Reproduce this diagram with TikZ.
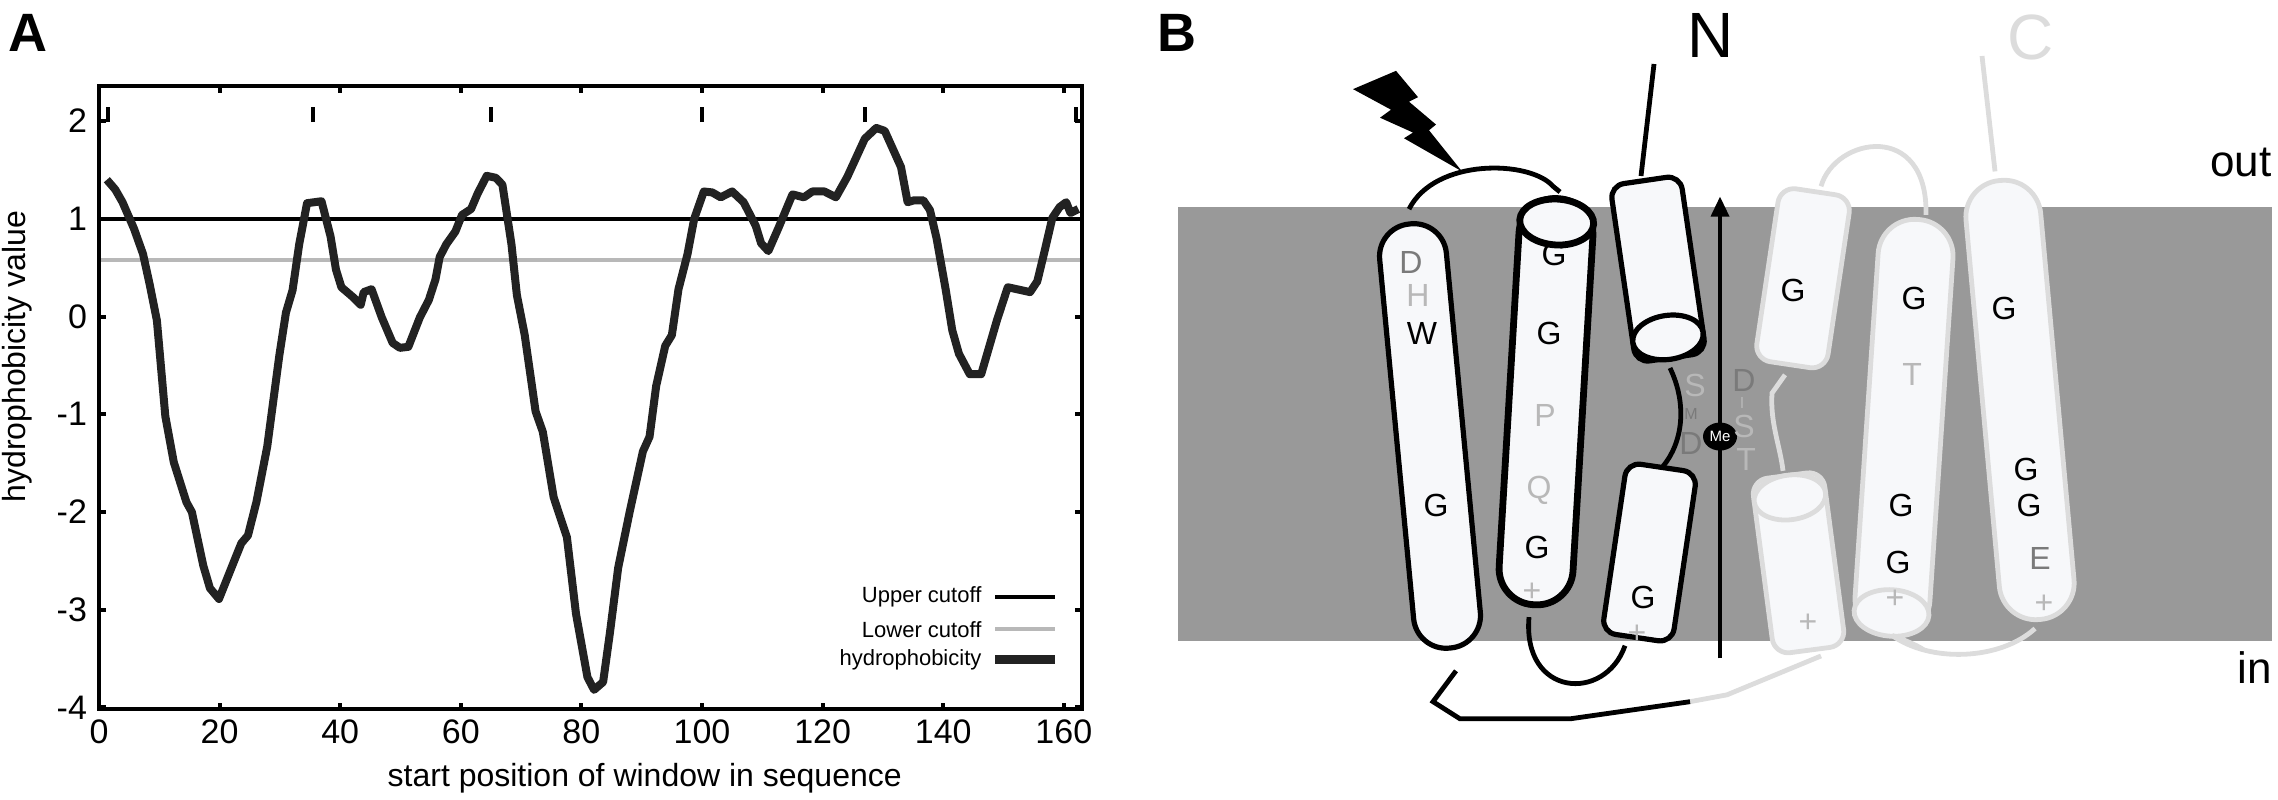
\documentclass[tikz,border=0pt]{standalone}
\usepackage{fontspec}
\setmainfont{Liberation Sans}
\usetikzlibrary{arrows.meta,shapes.geometric}
\definecolor{band}{HTML}{999999}
\definecolor{lt}{HTML}{DCDCDC}
\definecolor{hfill}{HTML}{F7F8FA}
\definecolor{lg}{HTML}{B8B8B8}
\definecolor{dg}{HTML}{7A7A7A}
\definecolor{crv}{HTML}{222222}
\tikzset{
  bh/.style={draw=black,line width=2.6pt,fill=hfill},
  gh/.style={draw=lt,line width=2.4pt,fill=hfill},
  bl/.style={draw=black,line width=2.4pt},
  gl/.style={draw=lt,line width=2.4pt},
  res/.style={font=\fontsize{16}{18}\selectfont,inner sep=0pt},
  tlab/.style={font=\fontsize{17}{19}\selectfont,inner sep=1pt},
  alab/.style={font=\fontsize{16}{19}\selectfont,inner sep=1pt},
  leg/.style={font=\fontsize{11}{12}\selectfont,anchor=east,inner sep=0pt},
}
\newcommand\capsule[6]{% cx cy angle halflen halfwid style
  \begin{scope}[shift={(#1,#2)},rotate=#3]
    \draw[#6,rounded corners=#5-0.5pt] (-#5,-#4) rectangle (#5,#4);
  \end{scope}}
\newcommand\boxhx[7]{% cx cy angle halflen halfwid style radius
  \begin{scope}[shift={(#1,#2)},rotate=#3]
    \draw[#6,rounded corners=#7] (-#5,-#4) rectangle (#5,#4);
  \end{scope}}
\newcommand\capend[6]{% cx cy angle yoff rx style
  \begin{scope}[shift={(#1,#2)},rotate=#3]
    \draw[#6] (0,#4) ellipse [x radius=#5, y radius=0.62*#5];
  \end{scope}}
\begin{document}
\begin{tikzpicture}[x=0.5pt,y=-0.5714pt]
\useasboundingbox (0,0) rectangle (2278,700);
% ---------------- Panel A
\node[font=\bfseries\fontsize{27}{29}\selectfont,anchor=north west,inner sep=0pt] (labA) at (8,12) {A};
\begin{scope}[shift={(99,277)},x=3.015pt,y=48.86pt]
  \draw[black,line width=1.8pt] (0,1) -- (163,1);
  \draw[lg,line width=1.8pt] (0,0.58) -- (163,0.58);
  \foreach \u in {1.5,35.5,65,100,127,162}
    \draw[black,line width=2.2pt] (\u,1.99) -- (\u,2.14);
  \draw[crv,line width=4pt,line join=round] plot coordinates {
   (1.3,1.40)(2.7,1.30)(3.9,1.17)(5.8,0.90)(7.3,0.64)(8.4,0.33)(9.6,-0.04)(11,-1.02)(12.4,-1.49)(14.5,-1.90)(15.4,-2.0)(17.3,-2.55)(18.4,-2.78)(19.9,-2.89)(22.1,-2.55)(23.6,-2.32)(24.7,-2.24)(26.1,-1.90)(27.9,-1.33)(29.9,-0.40)(31,0.04)(32.1,0.27)(33.2,0.74)(34.5,1.16)(36.9,1.18)(38.4,0.82)(39.3,0.48)(40.2,0.30)(42.1,0.20)(43.4,0.12)(43.9,0.25)(45.2,0.28)(46.9,-0.01)(48.7,-0.27)(49.9,-0.32)(51.3,-0.31)(53.2,-0.01)(54.7,0.17)(55.8,0.38)(56.5,0.61)(57.6,0.74)(59.1,0.87)(60.2,1.04)(61.7,1.10)(62.8,1.26)(64.3,1.44)(65.8,1.42)(66.9,1.35)(68.4,0.74)(69.3,0.22)(70.6,-0.19)(72.4,-0.97)(73.6,-1.18)(75.4,-1.85)(77.6,-2.26)(79.1,-3.04)(81.0,-3.69)(82.1,-3.82)(83.6,-3.74)(84.7,-3.25)(86.1,-2.57)(88.0,-2.0)(90.2,-1.38)(91.3,-1.23)(92.4,-0.71)(93.9,-0.30)(95.0,-0.19)(96.1,0.28)(97.6,0.64)(98.7,1.0)(100.3,1.28)(101.7,1.27)(103.1,1.22)(105,1.28)(106.9,1.17)(108.9,0.93)(109.8,0.75)(111,0.67)(112.7,0.91)(115,1.25)(116.9,1.22)(118.3,1.28)(120.3,1.28)(122.2,1.22)(124.1,1.43)(127,1.82)(128.9,1.93)(130.3,1.90)(132.2,1.64)(133,1.53)(134.1,1.17)(135.2,1.19)(136.7,1.19)(137.8,1.09)(138.9,0.80)(140.4,0.28)(141.5,-0.14)(142.6,-0.38)(144.4,-0.59)(146.3,-0.59)(148.9,-0.04)(150.7,0.30)(152.2,0.28)(154.4,0.25)(155.6,0.36)(156.7,0.64)(158.1,1.01)(159.3,1.12)(160.4,1.17)(161.1,1.06)(162.4,1.10)};
  \draw[black,line width=2pt] (0,-4.02) rectangle (163,2.36);
  \foreach \u in {0,20,...,160} {
    \draw[black,line width=2pt] (\u,-4.02) -- (\u,-3.95);
    \draw[black,line width=2pt] (\u,2.36) -- (\u,2.29);
    \node[tlab,anchor=north] (xt\u) at (\u,-4.1) {\u};}
  \foreach \v in {-4,...,2} {
    \draw[black,line width=2pt] (0,\v) -- (1.2,\v);
    \draw[black,line width=2pt] (163,\v) -- (161.8,\v);
    \node[tlab,anchor=east] (yt\v) at (-1.6,\v) {\v};}
  \node[alab,rotate=90] (ylab) at (-13.6,-0.41) {hydrophobicity value};
  \node[alab] (xlab) at (90.5,-4.72) {start position of window in sequence};
  \node[leg] (l1) at (146.4,-2.87) {Upper cutoff};
  \node[leg] (l2) at (146.4,-3.2) {Lower cutoff};
  \node[leg] (l3) at (146.4,-3.51) {hydrophobicity};
  \draw[black,line width=1.8pt] (148.6,-2.87) -- (158.6,-2.87);
  \draw[lg,line width=1.8pt] (148.6,-3.2) -- (158.6,-3.2);
  \draw[crv,line width=4.5pt] (148.6,-3.51) -- (158.6,-3.51);
\end{scope}
% ---------------- Panel B
\node[font=\bfseries\fontsize{27}{29}\selectfont,anchor=north west,inner sep=0pt] (labB) at (1157,12) {B};
\fill[band] (1178,181) rectangle (2272,561);
\node[font=\fontsize{22}{24}\selectfont,anchor=east,inner sep=0pt] (out) at (2272,142) {out};
\node[font=\fontsize{22}{24}\selectfont,anchor=east,inner sep=0pt] (in) at (2272,584) {in};
\node[font=\fontsize{32}{34}\selectfont,inner sep=0pt] (N) at (1711,31) {N};
\node[font=\fontsize{32}{34}\selectfont,inner sep=0pt,text=lt] (C) at (2031,33) {C};
% light loops
\draw[gl] (1690,614) -- (1727,608) -- (1821,574);
\draw[gl] (1821,163) .. controls (1835,120) and (1928,105) .. (1926,188);
\draw[gl] (1785,328) -- (1772,344) .. controls (1770,370) and (1780,390) .. (1783,412);
\draw[gl] (1892,556) .. controls (1930,580) and (2000,578) .. (2035,550);
\draw[gl] (1982,49) -- (1995,150);
% light helices
\boxhx{1803}{243.5}{-8.5}{43.7pt}{18pt}{gh}{8pt}
\boxhx{1798.5}{492.5}{7.5}{44pt}{18pt}{gh}{8pt}
\capend{1798.5}{492.5}{7.5}{33pt}{18pt}{gh}
\capsule{1904}{374}{-3.85}{104.2pt}{18.75pt}{gh}
\capend{1904}{374}{-3.85}{-93pt}{18.75pt}{gh}
\capsule{2020}{350}{5.2}{110.2pt}{18.75pt}{gh}
\draw[gl] (1892,556) .. controls (1910,562) and (1920,566) .. (1924,569);
% black loops
\draw[bl] (1456,587) -- (1433,614) -- (1460,629) -- (1570,629) -- (1690,614);
\draw[bl] (1529,540) .. controls (1522,610) and (1605,615) .. (1625,565);
\draw[bl] (1670,322) .. controls (1688,355) and (1682,388) .. (1663,408);
\draw[bl] (1654,56) -- (1641,154);
% black helices
\capsule{1430}{381.5}{5.4}{106.5pt}{16.75pt}{bh}
\capsule{1546}{351.5}{-3.4}{101.7pt}{18.5pt}{bh,line width=3.4pt}
\capend{1546}{351.5}{-3.4}{90pt}{18.5pt}{bh,line width=3.4pt}
\boxhx{1658}{235.5}{8.3}{44.8pt}{17.75pt}{bh}{7pt}
\capend{1658}{235.5}{8.3}{-34.5pt}{17.75pt}{bh}
\boxhx{1649.5}{483.5}{-8.4}{43pt}{17.75pt}{bh}{7pt}
\draw[bl] (1409,183) .. controls (1435,138) and (1530,140) .. (1553,163) -- (1560,168);
\fill[black] (1353,78) -- (1396,62) -- (1418,85) -- (1409,89) -- (1436,109) -- (1429,114) -- (1462,150) -- (1404,121) -- (1413,116) -- (1380,103) -- (1391,96) -- cycle;
% arrow + Me
\draw[black,line width=1.8pt,-{Triangle[length=10pt,width=9pt]}] (1720,576) -- (1720,172);
\node[fill=black,ellipse,inner sep=0pt,minimum width=17pt,minimum height=14pt,text=white,font=\fontsize{7.5}{8}\selectfont] (Me) at (1720,382) {Me};
% residue letters
\node[res,text=dg] (r1) at (1411,230) {D};
\node[res,text=lg] (r2) at (1418,259) {H};
\node[res] (r3) at (1422,292) {W};
\node[res] (r4) at (1436,442) {G};
\node[res] (r5) at (1554,223) {G};
\node[res] (r6) at (1549,292) {G};
\node[res,text=lg] (r7) at (1545,364) {P};
\node[res,text=lg] (r8) at (1539,429) {Q};
\node[res] (r9) at (1537,479) {G};
\node[res,text=lg] (r10) at (1532,518) {+};
\node[res] (r11) at (1643,523) {G};
\node[res,text=lg] (r12) at (1637,555) {+};
\node[res,text=lg] (r13) at (1695,337) {S};
\node[res,text=dg,font=\fontsize{8}{9}\selectfont] (r14) at (1691,362) {M};
\node[res,text=dg] (r15) at (1691,388) {D};
\node[res,text=dg] (r16) at (1744,333) {D};
\node[res,text=lg,font=\fontsize{8}{9}\selectfont] (r17) at (1742,353) {I};
\node[res,text=lg] (r18) at (1744,373) {S};
\node[res,text=lg] (r19) at (1746,402) {T};
\node[res] (r20) at (1793,254) {G};
\node[res,text=lg] (r21) at (1808,545) {+};
\node[res] (r22) at (1914,261) {G};
\node[res,text=lg] (r23) at (1912,328) {T};
\node[res] (r24) at (1901,442) {G};
\node[res] (r25) at (1898,492) {G};
\node[res,text=lg] (r26) at (1895,524) {+};
\node[res] (r27) at (2004,270) {G};
\node[res] (r28) at (2026,411) {G};
\node[res] (r29) at (2029,442) {G};
\node[res,text=dg] (r30) at (2040,489) {E};
\node[res,text=lg] (r31) at (2044,529) {+};
\end{tikzpicture}
\end{document}
